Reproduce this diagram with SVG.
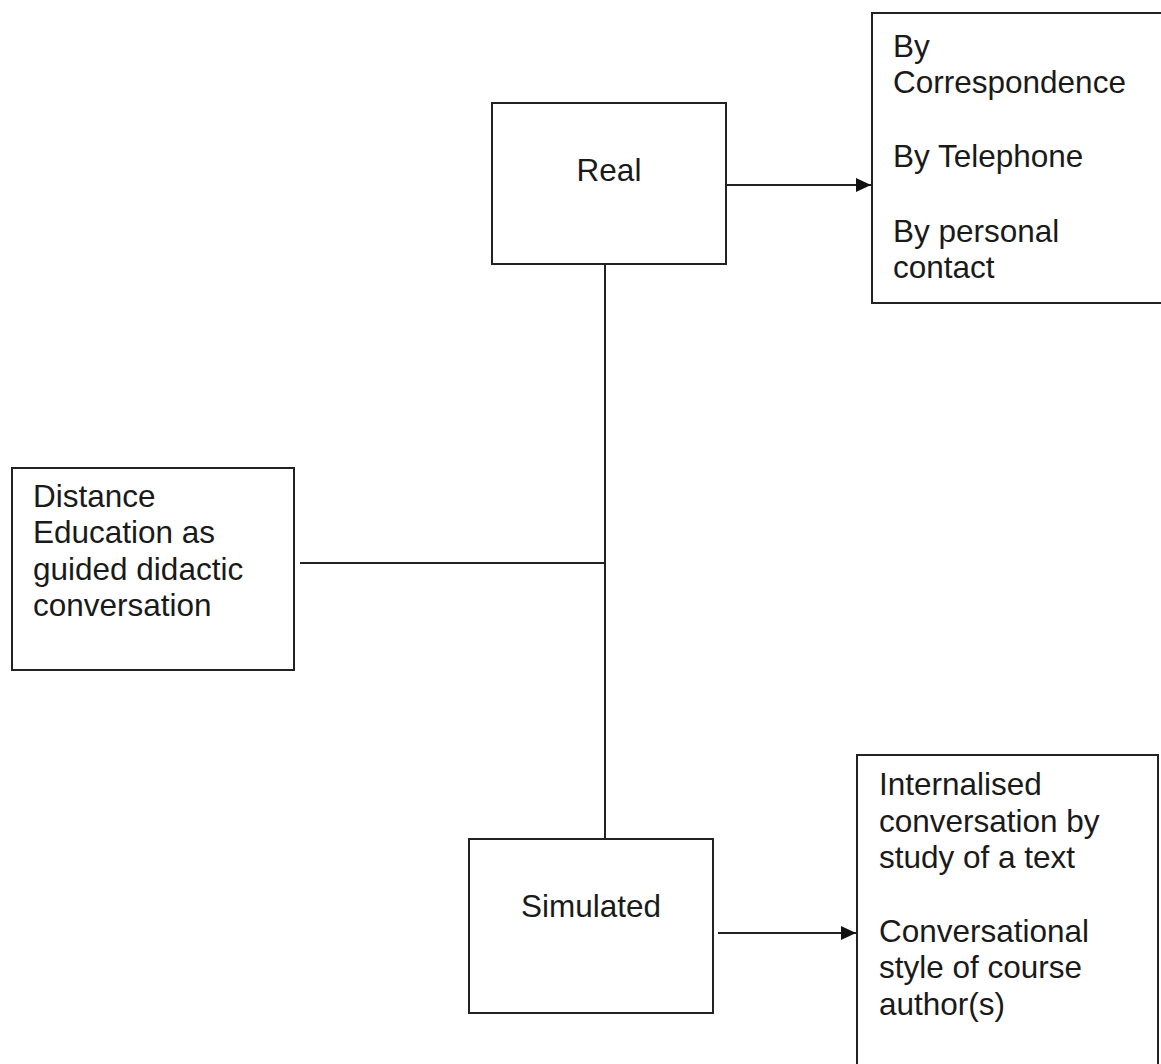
<svg xmlns="http://www.w3.org/2000/svg" width="1161" height="1064" viewBox="0 0 1161 1064">
<style>
.box{fill:#fff;stroke:#222;stroke-width:2}
.t{font-family:"Liberation Sans",Arial,sans-serif;font-size:31.5px;fill:#1a1a1a}
.c{text-anchor:middle}
.ln{fill:none;stroke:#222;stroke-width:2}
</style>
<defs>
<marker id="ah" markerUnits="userSpaceOnUse" markerWidth="16" markerHeight="14" refX="15" refY="7" orient="auto">
<path d="M0,0 L15,7 L0,14 Z" fill="#111"/>
</marker>
</defs>
<rect x="0" y="0" width="1161" height="1064" fill="#fff"/>
<g id="connectors">
<line class="ln" x1="605" y1="264" x2="605" y2="839"/>
<line class="ln" x1="300" y1="563" x2="605" y2="563"/>
<line class="ln" x1="726" y1="185" x2="871" y2="185" marker-end="url(#ah)"/>
<line class="ln" x1="718" y1="933" x2="856" y2="933" marker-end="url(#ah)"/>
</g>
<g id="node-real">
<rect class="box" x="492" y="103" width="234" height="161"/>
<text class="t c" x="609" y="181">Real</text>
</g>
<g id="node-real-modes">
<rect class="box" x="872" y="13" width="300" height="290"/>
<text class="t" x="893"><tspan x="893" y="57">By</tspan><tspan x="893" y="93">Correspondence</tspan><tspan x="893" y="167">By Telephone</tspan><tspan x="893" y="242">By personal</tspan><tspan x="893" y="278">contact</tspan></text>
</g>
<g id="node-distance">
<rect class="box" x="12" y="468" width="282" height="202"/>
<text class="t" x="33"><tspan x="33" y="507">Distance</tspan><tspan x="33" y="543">Education as</tspan><tspan x="33" y="580">guided didactic</tspan><tspan x="33" y="616">conversation</tspan></text>
</g>
<g id="node-simulated">
<rect class="box" x="469" y="839" width="244" height="174"/>
<text class="t c" x="591" y="917">Simulated</text>
</g>
<g id="node-simulated-modes">
<rect class="box" x="857" y="755" width="301" height="330"/>
<text class="t" x="879"><tspan x="879" y="795">Internalised</tspan><tspan x="879" y="832">conversation by</tspan><tspan x="879" y="868">study of a text</tspan><tspan x="879" y="942">Conversational</tspan><tspan x="879" y="978">style of course</tspan><tspan x="879" y="1015">author(s)</tspan></text>
</g>
</svg>
